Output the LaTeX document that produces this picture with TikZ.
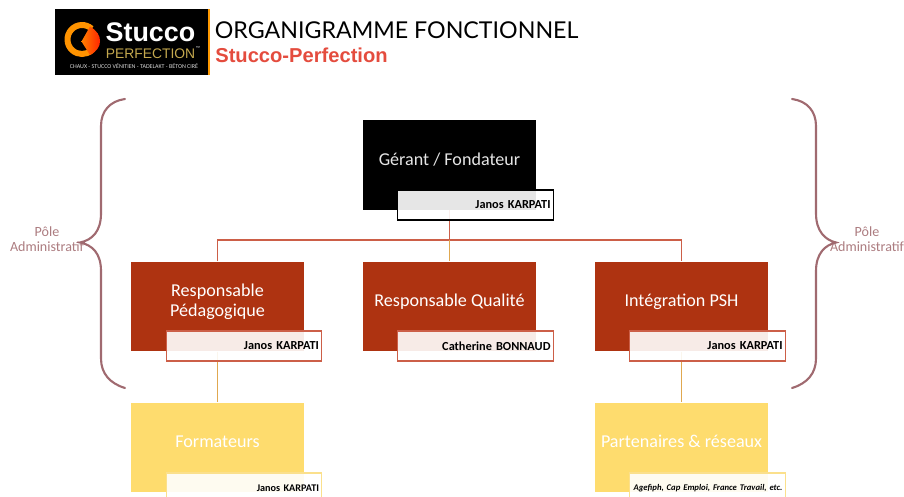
\documentclass[tikz,border=0pt]{standalone}
\usepackage{fontspec}
\setmainfont{Carlito}
\newfontfamily\titlefont{Lato}
\newfontfamily\arialfont{Liberation Sans}
\definecolor{rouille}{HTML}{AE3311}
\definecolor{rougetrait}{HTML}{CC5F48}
\definecolor{jaune}{HTML}{FEDC6E}
\definecolor{jaunetrait}{HTML}{FBE08C}
\definecolor{ocre}{HTML}{E0A850}
\definecolor{mauve}{HTML}{A06A70}
\definecolor{mauveclair}{HTML}{AC7C80}
\definecolor{rougetitre}{HTML}{E44C3E}
\definecolor{orlogo}{HTML}{C4A84E}
\tikzset{
  poste/.style={minimum width=3.46cm,minimum height=1.79cm,inner sep=2pt,text=white,text height=7.5pt,text depth=7pt,font=\fontsize{10.3}{11.3}\selectfont},
  nom/.style={minimum width=3.1cm,minimum height=0.6cm,inner sep=1.5pt,align=right,text width=3cm,fill=white,fill opacity=.9,text opacity=1,line width=0.6pt,font=\fontsize{7}{8}\selectfont\bfseries},
  accolade/.style={draw=mauve,line width=1.2pt,line cap=round},
  pole/.style={align=center,text=mauveclair,inner sep=0pt,font=\fontsize{8}{8.5}\selectfont}
}
\begin{document}
\begin{tikzpicture}
\useasboundingbox (0,0) rectangle (18.08,9.92);
% logo
\node[fill=black,minimum width=3.08cm,minimum height=1.3cm,inner sep=0pt] (logo) at (2.64,9.08) {};
\fill[orange!80!yellow] (4.16,8.43) rectangle (4.2,9.73);
\draw[draw=orange!85!yellow,line width=3.4pt] (1.64,9.13) ++(48:0.29) arc (48:312:0.29);
\shade[left color=orange,right color=red!70!orange] (1.63,9.09)--(1.8,9.39)..controls (1.95,9.3) and (2,9.2) .. (2,9.1) .. controls (2,9) and (1.95,8.9) .. (1.8,8.82)--cycle;
\node[text=white,inner sep=0pt,font=\arialfont\fontsize{15.3}{16}\selectfont\bfseries] (marque) at (3.01,9.27) {Stucco};
\node[text=orlogo,inner sep=0pt,font=\arialfont\fontsize{7.9}{8}\selectfont] (perfection) at (3.01,8.85) {PERFECTION};
\node[text=white,inner sep=0pt,font=\arialfont\fontsize{2.4}{3}\selectfont] (tm) at (3.96,8.96) {™};
\node[text=white!85!black,inner sep=0pt,font=\fontsize{3.4}{3.8}\selectfont] (slogan) at (2.68,8.6) {CHAUX - STUCCO VÉNITIEN - TADELAKT - BÉTON CIRÉ};
% titre
\node[anchor=west,inner sep=0pt,font=\titlefont\fontsize{13.2}{15}\selectfont] (titre) at (4.29,9.32) {ORGANIGRAMME FONCTIONNEL};
\node[anchor=west,inner sep=0pt,text=rougetitre,font=\arialfont\fontsize{11.46}{13}\selectfont\bfseries] (soustitre) at (4.3,8.82) {Stucco-Perfection};
% postes
\node[poste,fill=black,text=white!90!black] (gerant) at (8.99,6.62) {Gérant / Fondateur};
\node[poste,fill=rouille,text height=18.8pt,text depth=7.6pt] (pedago) at (4.35,3.79) {\begin{tabular}[b]{@{}c@{}}Responsable\\Pédagogique\end{tabular}};
\node[poste,fill=rouille] (qualite) at (8.99,3.79) {Responsable Qualité};
\node[poste,fill=rouille] (psh) at (13.63,3.79) {Intégration PSH};
\node[poste,fill=jaune] (formateurs) at (4.35,0.97) {Formateurs};
\node[poste,fill=jaune] (partenaires) at (13.63,0.97) {Partenaires \& réseaux};
% liens
\coordinate (bus) at (8.99,5.12);
\draw[draw=rougetrait,line width=0.6pt] (pedago.north) |- (bus) -| (psh.north);
\draw[draw=ocre,line width=1.1pt] (bus) -- (qualite.north);
\draw[draw=rougetrait,line width=0.9pt] (gerant.south) -- (bus);
\draw[draw=ocre,line width=1.1pt] (pedago.south) -- (formateurs.north);
\draw[draw=ocre,line width=1.1pt] (psh.south) -- (partenaires.north);
% noms
\node[nom,draw=black] (nom0) at (9.51,5.82) {Janos KARPATI};
\node[nom,draw=rougetrait] (nom1) at (4.88,3.0) {Janos KARPATI};
\node[nom,draw=rougetrait] (nom2) at (9.51,3.0) {Catherine BONNAUD};
\node[nom,draw=rougetrait] (nom3) at (14.15,3.0) {Janos KARPATI};
\node[nom,draw=jaunetrait,font=\fontsize{5.8}{7}\selectfont\bfseries] (nom4) at (4.88,0.16) {Janos KARPATI};
\node[nom,draw=jaunetrait,font=\fontsize{4.94}{7}\selectfont\bfseries\itshape] (nom5) at (14.15,0.16) {\makebox[3cm][r]{Agefiph, Cap Emploi, France Travail, etc.}};
% accolades
\node[pole] (pole0) at (0.94,5.13) {Pôle\\Administratif};
\node[pole] (pole1) at (17.34,5.13) {Pôle\\Administratif};
\draw[accolade] (2.5,7.94) .. controls (2.2,7.9) and (2.02,7.7) .. (2.02,7.4) -- (2.02,5.65) .. controls (2.02,5.3) and (1.85,5.12) .. (1.6,5.07) .. controls (1.85,5.02) and (2.02,4.85) .. (2.02,4.5) -- (2.02,2.75) .. controls (2.02,2.45) and (2.2,2.25) .. (2.5,2.16);
\draw[accolade] (15.84,7.94) .. controls (16.14,7.9) and (16.32,7.7) .. (16.32,7.4) -- (16.32,5.65) .. controls (16.32,5.3) and (16.5,5.12) .. (16.72,5.07) .. controls (16.5,5.02) and (16.32,4.85) .. (16.32,4.5) -- (16.32,2.75) .. controls (16.32,2.45) and (16.14,2.25) .. (15.84,2.16);
\end{tikzpicture}
\end{document}
